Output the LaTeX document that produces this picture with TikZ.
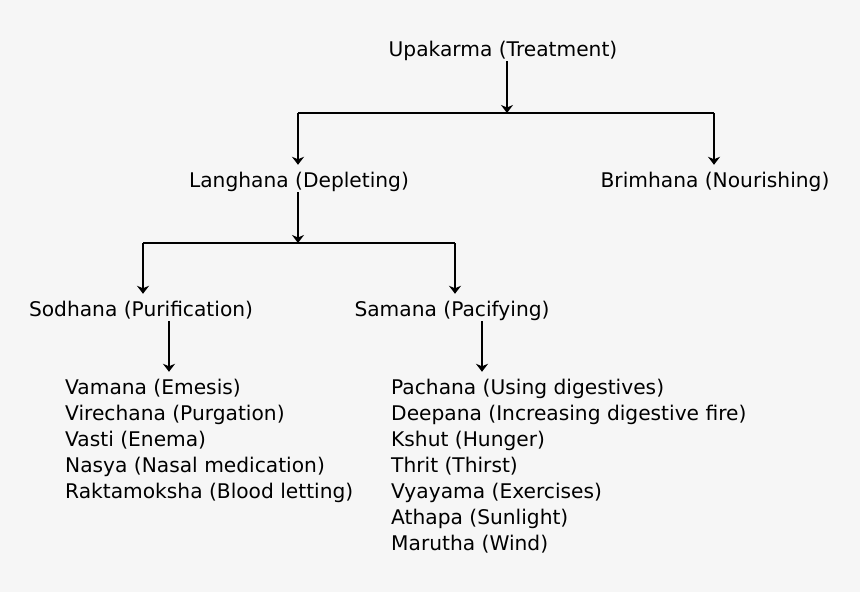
\documentclass[tikz,border=0pt]{standalone}
\usepackage{fontspec}
\setmainfont{DejaVu Sans}
\usetikzlibrary{arrows.meta}
\definecolor{bgc}{HTML}{F6F6F6}
\tikzset{
  lbl/.style={anchor=base, inner sep=0pt, text height=15pt, text depth=5pt, font=\fontsize{20.2}{26}\selectfont},
  item/.style={anchor=base west, inner sep=0pt, text height=15pt, text depth=5pt, font=\fontsize{20.2}{26}\selectfont},
  ln/.style={line width=2.2pt},
  arr/.style={line width=2.2pt, -{Stealth[length=8pt,width=12pt,inset=2.5pt]}}
}
\begin{document}
\begin{tikzpicture}[x=1pt,y=-1pt]
\path[fill=bgc] (0,0) rectangle (860,592);
\useasboundingbox (0,0) rectangle (860,592);

\node[lbl] (top) at (503,56) {Upakarma (Treatment)};
\node[lbl] (lang) at (299,187) {Langhana (Depleting)};
\node[lbl] (brim) at (715,187) {Brimhana (Nourishing)};
\node[lbl] (sod) at (141,316) {Sodhana (Purification)};
\node[lbl] (sam) at (452,316) {Samana (Pacifying)};

\foreach \t [count=\i] in {Vamana (Emesis), Virechana (Purgation), Vasti (Enema), Nasya (Nasal medication), Raktamoksha (Blood letting)}
  \node[item] (v\i) at (65,{394+26*(\i-1)}) {\t};
\foreach \t [count=\i] in {Pachana (Using digestives), Deepana (Increasing digestive fire), Kshut (Hunger), Thrit (Thirst), Vyayama (Exercises), Athapa (Sunlight), Marutha (Wind)}
  \node[item] (p\i) at (391,{394+26*(\i-1)}) {\t};

% level 1
\coordinate (j1) at (507,113);
\coordinate (j1l) at (298,113);
\coordinate (j1r) at (714,113);
\draw[arr] (top.south -| j1) -- (j1);
\draw[ln] (j1l) -- (j1r);
\draw[arr, shorten >=7pt] (j1l) -- (j1l |- lang.north);
\draw[arr, shorten >=7pt] (j1r) -- (j1r |- brim.north);

% level 2
\coordinate (j2) at (298,243);
\coordinate (j2l) at (143,243);
\coordinate (j2r) at (455,243);
\draw[arr] (lang.south -| j2) -- (j2);
\draw[ln] (j2l) -- (j2r);
\draw[arr, shorten >=7pt] (j2l) -- (j2l |- sod.north);
\draw[arr, shorten >=7pt] (j2r) -- (j2r |- sam.north);

% level 3
\coordinate (a1) at (169,0);
\coordinate (a2) at (482,0);
\draw[arr, shorten >=7pt] (sod.south -| a1) -- (a1 |- v1.north);
\draw[arr, shorten >=7pt] (sam.south -| a2) -- (a2 |- p1.north);
\end{tikzpicture}
\end{document}
